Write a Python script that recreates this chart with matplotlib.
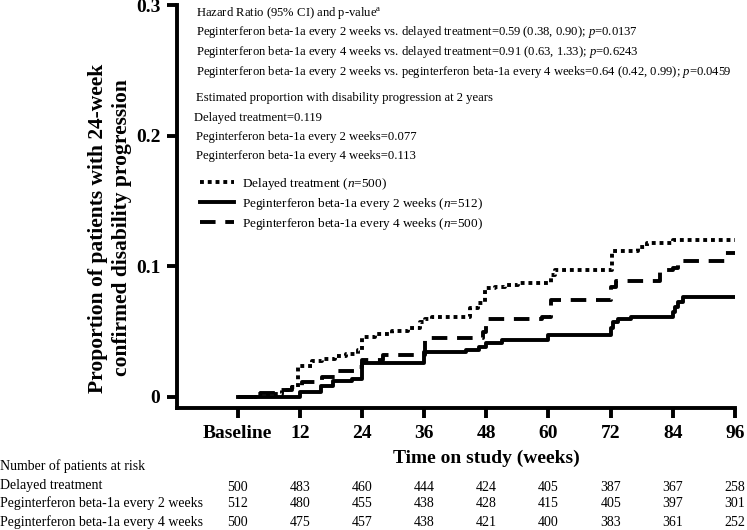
import matplotlib
matplotlib.use("Agg")
import matplotlib.pyplot as plt
import matplotlib.transforms as mtransforms
from matplotlib.lines import Line2D

plt.rcParams["font.family"] = ["Liberation Serif", "DejaVu Serif"]
plt.rcParams["mathtext.fontset"] = "custom"
plt.rcParams["mathtext.rm"] = "Liberation Serif"
plt.rcParams["mathtext.it"] = "Liberation Serif:italic"
plt.rcParams["mathtext.bf"] = "Liberation Serif:bold"

# ── Data ─────────────────────────────────────────────────────────
delayed_t = [0, 4, 8.5, 10.4, 11.6, 14.3, 16.2, 18.8, 21, 23.2, 24, 26.5, 29.8,
             32.9, 35.2, 36.2, 37.5, 44.9, 46.4, 47.8, 49.7, 51.6, 54.2, 60.4,
             61.3, 72.3, 77.2, 79, 84, 96]
delayed_p = [0, 0.002, 0.005, 0.0075, 0.024, 0.0275, 0.029, 0.031, 0.033, 0.036,
             0.046, 0.048, 0.0505, 0.053, 0.057, 0.0595, 0.061, 0.068, 0.072,
             0.083, 0.084, 0.086, 0.087, 0.093, 0.097, 0.112, 0.1145, 0.118,
             0.12, 0.12]

q2w_t = [0, 12, 16, 18.5, 22, 24, 36, 44, 46.5, 48, 51, 60, 72, 72.5, 73.5, 76,
         84, 84.5, 85, 86, 96]
q2w_p = [0, 0.004, 0.008, 0.012, 0.014, 0.026, 0.034, 0.036, 0.038, 0.041,
         0.0435, 0.047, 0.053, 0.057, 0.060, 0.061, 0.065, 0.069, 0.073, 0.0765,
         0.0765]

q4w_t = [0, 3.9, 7.7, 10.4, 12.4, 16.2, 19.3, 23.2, 24, 28, 36.2, 47.4, 48, 58.8,
         60.4, 72, 73, 81.6, 84, 85, 94, 96]
q4w_p = [0, 0.003, 0.005, 0.0075, 0.0115, 0.015, 0.02, 0.023, 0.028, 0.032,
         0.045, 0.0495, 0.0595, 0.061, 0.074, 0.084, 0.089, 0.097, 0.099, 0.104,
         0.11, 0.11]

x_ticks = [0, 12, 24, 36, 48, 60, 72, 84, 96]
x_tick_labels = ["Baseline", "12", "24", "36", "48", "60", "72", "84", "96"]
y_ticks = [0, 0.1, 0.2, 0.3]
y_tick_labels = ["0", "0.1", "0.2", "0.3"]

risk_labels = ["Delayed treatment",
               "Peginterferon beta-1a every 2 weeks",
               "Peginterferon beta-1a every 4 weeks"]
risk_delayed = [500, 483, 460, 444, 424, 405, 387, 367, 258]
risk_q2w = [512, 480, 455, 438, 428, 415, 405, 397, 301]
risk_q4w = [500, 475, 457, 438, 421, 400, 383, 361, 252]

hr_lines = [
    r"Hazard Ratio (95% CI) and p-value$^{\mathrm{a}}$",
    r"Peginterferon beta-1a every 2 weeks vs. delayed treatment=0.59 (0.38, 0.90); $p$=0.0137",
    r"Peginterferon beta-1a every 4 weeks vs. delayed treatment=0.91 (0.63, 1.33); $p$=0.6243",
    r"Peginterferon beta-1a every 2 weeks vs. peginterferon beta-1a every 4 weeks=0.64 (0.42, 0.99); $p$=0.0459",
]
est_lines = [
    "Estimated proportion with disability progression at 2 years",
    "Delayed treatment=0.119",
    "Peginterferon beta-1a every 2 weeks=0.077",
    "Peginterferon beta-1a every 4 weeks=0.113",
]

W, H = 747, 530


def fx(x):
    return x / W


def fy(y):
    return 1 - y / H


fig = plt.figure(figsize=(W / 100, H / 100), dpi=100)
fig.patch.set_facecolor("white")
ax = fig.add_axes([fx(177), fy(408), (735 - 177) / W, (408 - 5) / H])

lw = 2.8
dotted = (0, (1, 1))
dashed = (0, (4, 2.5))
ax.step(delayed_t, delayed_p, where="post", color="black", lw=lw, linestyle=dotted)
ax.step(q2w_t, q2w_p, where="post", color="black", lw=lw, linestyle="-")
ax.step(q4w_t, q4w_p, where="post", color="black", lw=lw, linestyle=dashed)

ax.set_xlim(-11.7, 96)
ax.set_ylim(-0.0085, 0.3)
ax.set_xticks(x_ticks)
ax.set_xticklabels(x_tick_labels)
ax.set_yticks(y_ticks)
ax.set_yticklabels(y_tick_labels)
for s in ["top", "right"]:
    ax.spines[s].set_visible(False)
for s in ["left", "bottom"]:
    ax.spines[s].set_linewidth(2.8)
ax.tick_params(direction="out", length=7, width=2.8, labelsize=14, pad=5)
for lab in ax.get_xticklabels() + ax.get_yticklabels():
    lab.set_fontweight("bold")

trans = mtransforms.blended_transform_factory(ax.transData, fig.transFigure)

# x label is centred on the data range (Baseline..96), not on the axes
ax.set_xlabel("Time on study (weeks)", fontsize=14, fontweight="bold")
ax.xaxis.set_label_coords(48, fy(458), transform=trans)
ax.xaxis.label.set_va("center")

fig.text(fx(110), fy(228),
         "Proportion of patients with 24-week\nconfirmed disability progression",
         rotation=90, ha="center", va="center", fontsize=15.5,
         fontweight="bold", linespacing=1.2)

# ── Annotations ──────────────────────────────────────────────────
fs_note = 9.1
for i, line in enumerate(hr_lines):
    fig.text(fx(196), fy(13 + 19.5 * i), line, fontsize=fs_note, va="center")
for i, line in enumerate(est_lines):
    fig.text(fx(194 if i == 1 else 196), fy(98 + 19.5 * i), line,
             fontsize=fs_note, va="center")

# ── Legend ───────────────────────────────────────────────────────
handles = [
    Line2D([], [], color="black", lw=lw, linestyle=dotted),
    Line2D([], [], color="black", lw=lw, linestyle="-"),
    Line2D([], [], color="black", lw=lw, linestyle=dashed),
]
labels = [r"Delayed treatment ($n$=500)",
          r"Peginterferon beta-1a every 2 weeks ($n$=512)",
          r"Peginterferon beta-1a every 4 weeks ($n$=500)"]
fig.legend(handles, labels, loc="upper left",
           bbox_to_anchor=(fx(200), fy(176)), frameon=False, fontsize=9.5,
           handlelength=2.6, handletextpad=0.6, labelspacing=0.3,
           borderpad=0, borderaxespad=0)

# ── Number at risk table ─────────────────────────────────────────
fig.text(0.0, fy(466), "Number of patients at risk", fontsize=10, va="center")
for row, (lab, vals) in enumerate(zip(risk_labels,
                                       [risk_delayed, risk_q2w, risk_q4w])):
    yy = fy(485 + 18.5 * row)
    fig.text(0.0, yy, lab, fontsize=10, va="center")
    for xt, v in zip(x_ticks, vals):
        ax.text(xt, yy - (0.004 if row == 0 else 0), str(v), transform=trans,
                ha="center", va="center", fontsize=10, clip_on=False)

fig.savefig("out.png", dpi=100, facecolor="white")
